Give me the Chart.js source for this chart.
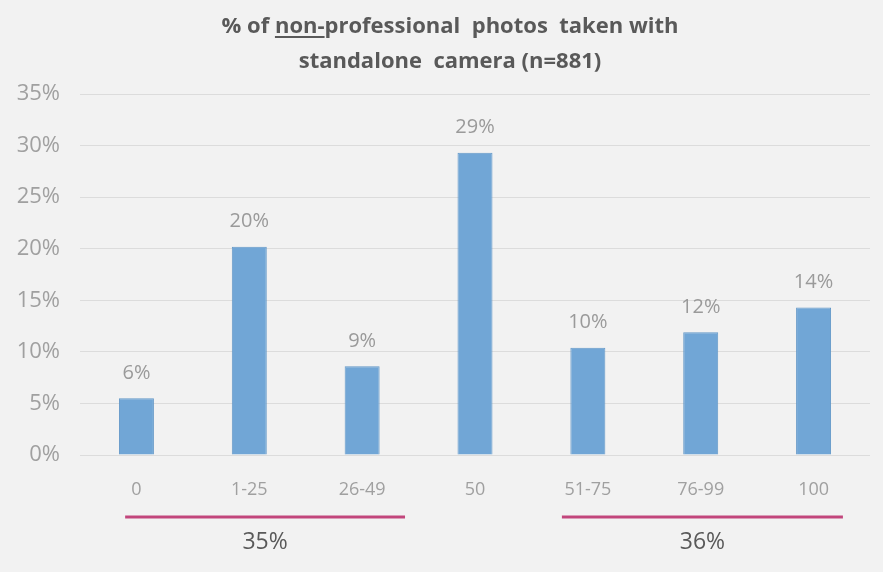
<!DOCTYPE html>
<html>
<head>
<meta charset="utf-8">
<script src="https://cdn.jsdelivr.net/npm/chart.js@4"></script>
<style>
  html, body { margin: 0; padding: 0; background: #f2f2f2; }
  #wrap { position: relative; width: 883px; height: 572px; }
  #title {
    position: absolute; left: 0; top: 7px; width: 900px; text-align: center;
    font-family: "Open Sans", sans-serif; font-weight: 700; font-size: 22px;
    line-height: 35px; color: #595959;
  }
  #title u { text-underline-offset: 3px; }
</style>
</head>
<body>
<div id="wrap">
  <div id="title">% of <u>non-</u>professional&nbsp; photos&nbsp; taken with<br>standalone&nbsp; camera (n=881)</div>
  <canvas id="myChart" width="883" height="572"></canvas>
</div>
<script>
const categories = ['0', '1-25', '26-49', '50', '51-75', '76-99', '100'];
const shares = [5.5, 20.2, 8.6, 29.3, 10.4, 11.9, 14.3];
const yTicks = [0, 5, 10, 15, 20, 25, 30, 35];
const groupLabels = ['35%', '36%'];
const groupStarts = [-0.1, 3.77];
const groupEnds = [2.38, 6.26];

// percent labels above each bar
const barLabels = {
    id: 'barLabels',
    afterDatasetsDraw(chart) {
        const ctx = chart.ctx;
        const meta = chart.getDatasetMeta(0);
        ctx.save();
        ctx.font = '20px "Open Sans"';
        ctx.fillStyle = '#9a9a9a';
        ctx.textAlign = 'center';
        ctx.textBaseline = 'middle';
        meta.data.forEach(function(bar, i) {
            ctx.fillText(Math.round(shares[i]) + '%', bar.x, bar.y - 25);
        });
        ctx.restore();
    }
};

// magenta brackets with group totals under the axis
const groupBrackets = {
    id: 'groupBrackets',
    afterDraw(chart) {
        const ctx = chart.ctx;
        const x = chart.scales.x;
        const y0 = chart.chartArea.bottom;
        ctx.save();
        groupLabels.forEach(function(label, i) {
            const a = x.getPixelForValue(groupStarts[i]);
            const b = x.getPixelForValue(groupEnds[i]);
            ctx.strokeStyle = '#c2467c';
            ctx.lineWidth = 3;
            ctx.beginPath();
            ctx.moveTo(a, y0 + 62);
            ctx.lineTo(b, y0 + 62);
            ctx.stroke();
            ctx.font = '23px "Open Sans"';
            ctx.fillStyle = '#595959';
            ctx.textAlign = 'center';
            ctx.textBaseline = 'middle';
            ctx.fillText(label, (a + b) / 2, y0 + 87);
        });
        ctx.restore();
    }
};

window.addEventListener('load', function() {
    let ctx = document.getElementById('myChart').getContext('2d');
    let chart = new Chart(ctx, {
        type: 'bar',
        data: {
            labels: categories,
            datasets: [{
                data: shares,
                backgroundColor: 'rgb(113, 166, 214)',
                borderColor: 'rgb(100, 152, 200)',
                borderWidth: 1,
                barPercentage: 0.31,
                categoryPercentage: 1
            }]
        },
        options: {
            responsive: false,
            animation: false,
            layout: { padding: { top: 94, right: 13, left: 0, bottom: 0 } },
            plugins: {
                legend: { display: false },
                tooltip: { enabled: false }
            },
            scales: {
                x: {
                    grid: { display: false },
                    border: { display: false },
                    ticks: {
                        color: '#a0a0a0',
                        font: { family: 'Open Sans', size: 18 },
                        padding: 16,
                        maxRotation: 0
                    },
                    afterFit(scale) { scale.height = 117; }
                },
                y: {
                    min: 0,
                    max: 35,
                    afterBuildTicks(scale) {
                        scale.ticks = yTicks.map(v => ({ value: v }));
                    },
                    grid: { color: '#dcdcdc', lineWidth: 1, drawTicks: false },
                    border: { display: false },
                    ticks: {
                        color: '#a0a0a0',
                        font: { family: 'Open Sans', size: 22 },
                        padding: 20,
                        callback: v => v + '%'
                    },
                    afterFit(scale) { scale.width = 80; }
                }
            }
        },
        plugins: [barLabels, groupBrackets]
    });
});
</script>
</body>
</html>
